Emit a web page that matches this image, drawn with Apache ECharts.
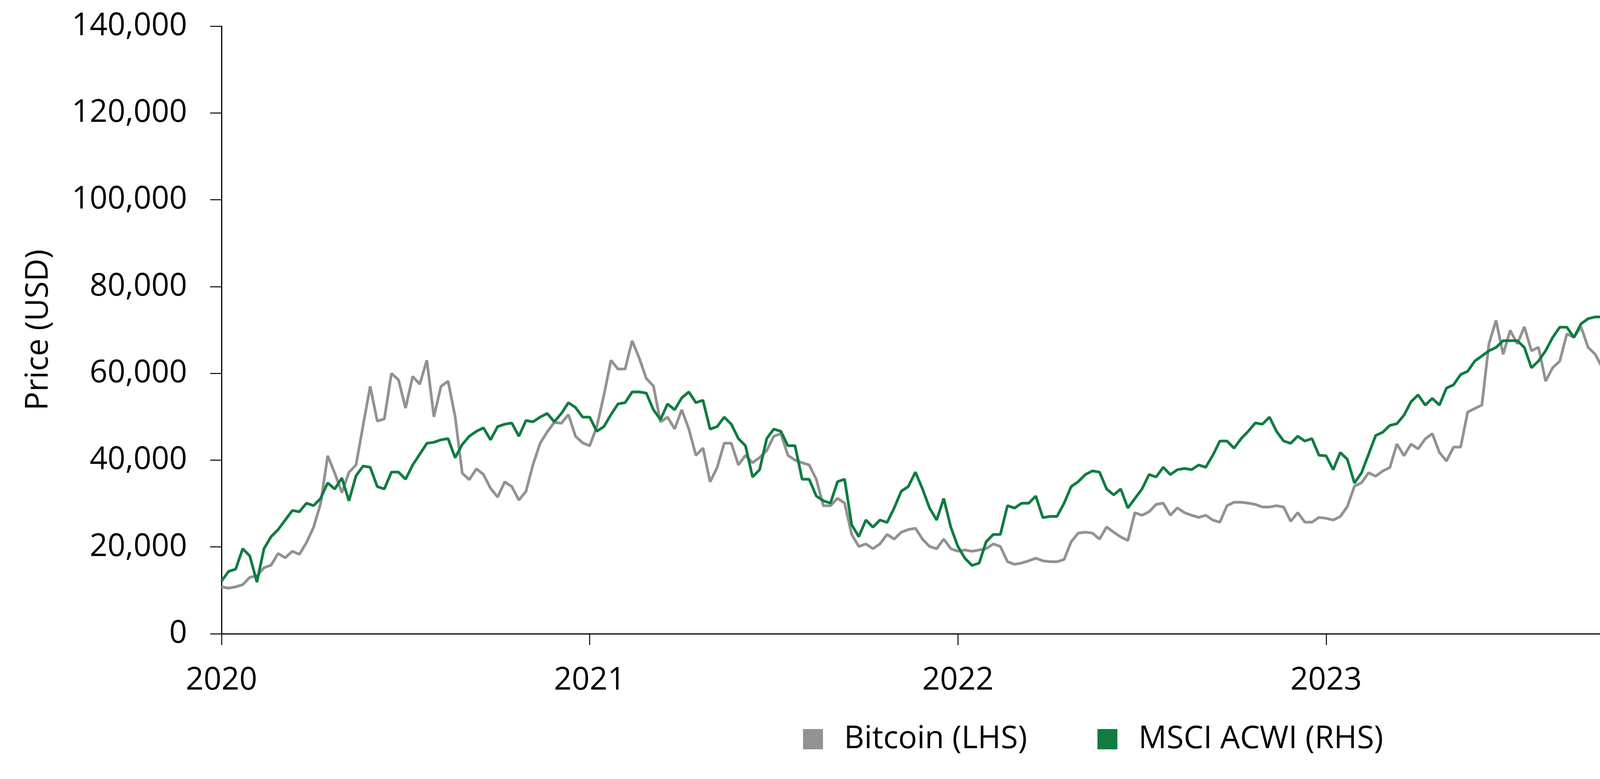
<!DOCTYPE html>
<html lang="en">
<head>
    <meta charset="UTF-8">
    <title>Bitcoin vs MSCI ACWI</title>
    <style>
        body {
            margin: 0;
            background: #fff;
        }
        #chart {
            width: 5597px;
            height: 1995px;
        }
    </style>
</head>
<body>
    <div id="chart"></div>
    <script src="https://cdn.jsdelivr.net/npm/echarts@6/dist/echarts.min.js"></script>
    <script>
        // weekly closes
        const btc2020 = [10800, 10500, 10800, 11300, 13000, 13300, 15200, 15800, 18500, 17500, 19000, 18300, 21000, 24500, 30000, 41000, 37000, 32500, 37200, 38900, 48000, 57000, 49000, 49500, 60000, 58500, 52000, 59300, 57500, 63000, 50000, 57000, 58200, 50000, 37000, 35500, 38000, 36700, 33500, 31500, 35000, 33900, 30800, 32800, 39000, 43900, 46500, 48700, 48500, 50500, 45500, 44000];
        const btc2021 = [43300, 47700, 54900, 63000, 61000, 61000, 67500, 63500, 58800, 57100, 48800, 49900, 47200, 51600, 47200, 41100, 42800, 35000, 38300, 43900, 43900, 38900, 41100, 39400, 40600, 42200, 45500, 46100, 41100, 40000, 39400, 38900, 35600, 29500, 29500, 31200, 30100, 22900, 20100, 20700, 19600, 20700, 22900, 21800, 23400, 24000, 24300, 21800, 20100, 19600, 21800, 19600];
        const btc2022 = [19000, 19300, 19000, 19300, 19600, 20700, 20100, 16600, 16000, 16300, 16800, 17400, 16800, 16600, 16600, 17100, 21200, 23200, 23400, 23200, 21800, 24600, 23400, 22300, 21500, 27900, 27300, 28100, 29800, 30100, 27300, 29000, 27900, 27300, 26800, 27300, 26200, 25700, 29500, 30300, 30300, 30100, 29800, 29200, 29200, 29500, 29200, 25900, 27900, 25700, 25700, 26800];
        const btc2023 = [26600, 26200, 27000, 29300, 34000, 34800, 37100, 36300, 37500, 38300, 43700, 41000, 43700, 42600, 44900, 46100, 41800, 39800, 43000, 43000, 51100, 51900, 52700, 66800, 72200, 64400, 69900, 66800, 70700, 65200, 66000, 58200, 61300, 62800, 69100, 68300, 70700, 66000, 64400, 61300, 59700, 56400, 65200, 66000, 62800, 59700, 59700, 63600, 59000, 55700, 57400, 63200];
        const btc2024 = [63800, 62100, 63800, 68400, 66100, 70100, 75300, 90800, 96500, 95900, 101100, 103000, 106500, 94800, 97600, 93600, 105100, 105700, 105100, 96500, 95900, 95900, 90800, 84000, 79500, 84400, 83100, 85500, 78700, 85000, 94800, 96500, 102800, 103400, 110300, 105700, 104000, 105100, 102200, 107400, 108500, 119500, 117700, 117100, 113100];

        const acwi2020 = [280.3, 285.9, 287.2, 299, 294.8, 279.7, 299, 305.9, 310, 315.5, 321, 320.3, 325.2, 323.8, 327.9, 336.9, 333.4, 339.7, 326.6, 341, 346.6, 345.9, 334.8, 333.4, 343.1, 343.1, 339, 347.2, 353.4, 359.7, 360.3, 361.7, 362.4, 351.4, 359, 363.8, 366.6, 368.6, 361.7, 369.3, 370.7, 371.4, 363.8, 372.8, 372.1, 374.8, 376.9, 372.1, 376.9, 383.1, 380.3, 374.8];
        const acwi2021 = [374.8, 366.6, 369.3, 376.2, 382.4, 383.1, 389.3, 389.3, 388.6, 379, 373.4, 382.4, 379, 385.9, 389.3, 383.1, 384.5, 367.9, 369.3, 374.8, 370.7, 362.4, 358.3, 340.3, 344.5, 362.4, 367.9, 366.6, 358.3, 358.3, 339, 339, 329.3, 326.6, 325.2, 337.6, 339, 312.8, 305.9, 315.5, 311.4, 315.5, 314.1, 322.4, 332.1, 334.8, 343.1, 333.4, 322.4, 315.5, 327.9, 311.4];
        const acwi2022 = [300.3, 293.4, 289.3, 290.7, 303.1, 307.2, 307.2, 323.8, 322.4, 325.2, 325.2, 329.3, 316.9, 317.6, 317.6, 325.2, 334.8, 337.6, 341.7, 343.8, 343.1, 333.4, 330, 333.4, 322.4, 327.9, 333.4, 341.7, 340.3, 345.9, 341.7, 344.5, 345.2, 344.5, 347.2, 345.9, 352.8, 361, 361, 356.9, 362.4, 366.6, 371.4, 370.7, 374.8, 366.6, 361, 359.7, 363.8, 361, 362.4, 352.8];
        const acwi2023 = [352.5, 344.5, 354.4, 350.5, 336.8, 342.7, 353.4, 364.2, 366.1, 370, 371, 375.9, 383.7, 387.6, 381.7, 385.6, 381.7, 391.5, 393.4, 399.3, 401.2, 407.1, 410, 413, 414.9, 418.8, 418.8, 418.8, 414.9, 403.2, 407.1, 413, 420.7, 426.6, 426.6, 420.7, 428.5, 431.5, 432.5, 432.5, 439.3, 446.1, 440.3, 430.5, 420.7, 413, 438.3, 448.1, 448.1, 438.3, 442.2, 452];
        const acwi2024 = [461.1, 456.8, 459.7, 461.1, 457.5, 452.5, 466.8, 461.1, 463.3, 466.8, 471.1, 471.1, 461.1, 461.1, 456.8, 459.7, 464, 472.6, 471.1, 472.6, 476.9, 479.7, 471.1, 464, 450, 458.2, 455.4, 455.4, 404, 431, 448.2, 462.5, 461.1, 478.3, 475.4, 484, 486.9, 488.3, 484, 499.8, 505.6, 504.1, 507, 514.2, 502.7];

        const yearLabels = ['2020', '2021', '2022', '2023', '2024'];

        const btc = [].concat(btc2020, btc2021, btc2022, btc2023, btc2024);
        const acwi = [].concat(acwi2020, acwi2021, acwi2022, acwi2023, acwi2024);

        // one category per week, starting 1 Jan 2020
        const weeks = [];
        const start = Date.UTC(2020, 0, 1);
        for (let i = 0; i < btc.length; i++) {
            weeks.push(new Date(start + i * 7 * 86400000).toISOString().slice(0, 10));
        }
        const isYearStart = i => i % 52 === 0;

        const font = 'Open Sans';
        const txt = { fontFamily: font, fontSize: 80, color: '#000' };

        const chart = echarts.init(document.getElementById('chart'));
        chart.setOption({
            animation: false,
            textStyle: { fontFamily: font },
            grid: { left: 567, right: 462, top: 67, bottom: 372 },
            legend: {
                left: 'center',
                top: 1848,
                icon: 'rect',
                itemWidth: 51,
                itemHeight: 52,
                itemGap: 180,
                textStyle: Object.assign({ padding: [0, 0, 0, 49] }, txt),
                data: ['Bitcoin (LHS)', 'MSCI ACWI (RHS)'],
            },
            xAxis: {
                type: 'category',
                boundaryGap: false,
                data: weeks,
                axisLine: { lineStyle: { color: '#000', width: 3 } },
                axisTick: { interval: isYearStart, length: 29, lineStyle: { color: '#000', width: 2.5 } },
                axisLabel: Object.assign({
                    interval: isYearStart,
                    margin: 80,
                    formatter: (v, i) => yearLabels[i / 52],
                }, txt),
                splitLine: { show: false },
            },
            yAxis: [
                {
                    type: 'value',
                    min: 0,
                    max: 140000,
                    interval: 20000,
                    name: 'Price (USD)',
                    nameLocation: 'middle',
                    nameGap: 428,
                    nameTextStyle: txt,
                    axisLine: { show: true, lineStyle: { color: '#000', width: 3 } },
                    axisTick: { show: true, length: 29, lineStyle: { color: '#000', width: 2.5 } },
                    axisLabel: Object.assign({ margin: 88 }, txt),
                    splitLine: { show: false },
                },
                {
                    type: 'value',
                    position: 'right',
                    min: 250,
                    max: 600,
                    interval: 50,
                    name: 'Price (USD)',
                    nameLocation: 'middle',
                    nameGap: 328,
                    nameTextStyle: txt,
                    axisLine: { show: true, lineStyle: { color: '#000', width: 3 } },
                    axisTick: { show: true, length: 29, lineStyle: { color: '#000', width: 2.5 } },
                    axisLabel: Object.assign({ margin: 87 }, txt),
                    splitLine: { show: false },
                },
            ],
            series: [
                {
                    name: 'Bitcoin (LHS)',
                    type: 'line',
                    yAxisIndex: 0,
                    data: btc,
                    showSymbol: false,
                    color: '#929292',
                    lineStyle: { width: 7, color: '#929292' },
                },
                {
                    name: 'MSCI ACWI (RHS)',
                    type: 'line',
                    yAxisIndex: 1,
                    data: acwi,
                    showSymbol: false,
                    color: '#107c41',
                    lineStyle: { width: 7, color: '#107c41' },
                },
            ],
        });
    </script>
</body>
</html>
